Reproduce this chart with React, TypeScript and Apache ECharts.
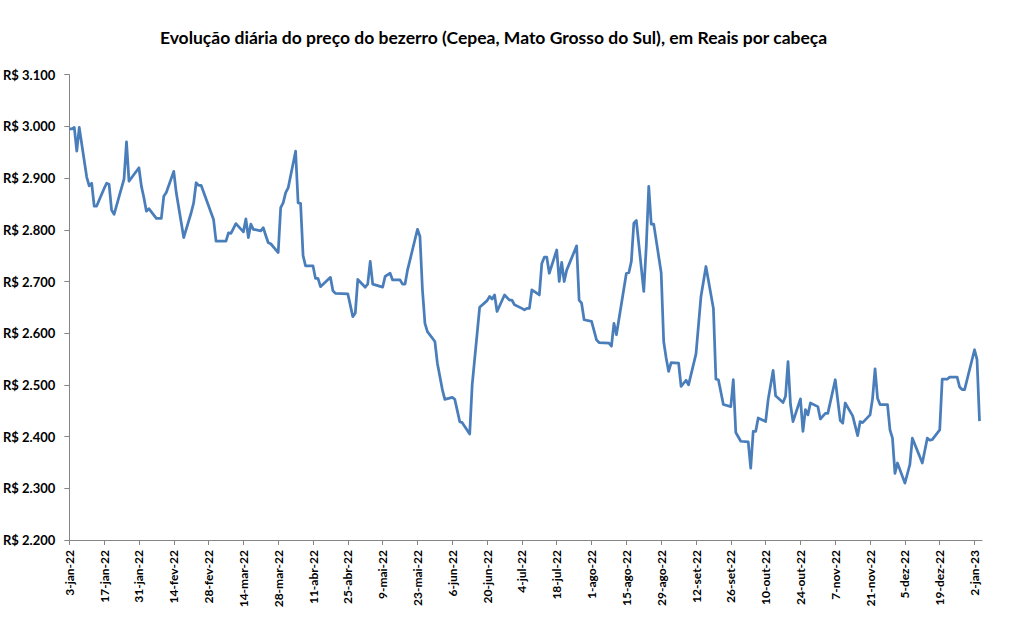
import React, { useEffect, useRef } from "react";
import * as echarts from "echarts";

const TITLE = "Evolução diária do preço do bezerro (Cepea, Mato Grosso do Sul), em Reais por cabeça";
const START_DATE = "2022-01-03";
const END_DATE = "2023-01-05";
const MONTHS = ["jan", "fev", "mar", "abr", "mai", "jun", "jul", "ago", "set", "out", "nov", "dez"];

const dates = [
  "2022-01-03","2022-01-04","2022-01-05","2022-01-06","2022-01-07","2022-01-10","2022-01-11","2022-01-12","2022-01-13","2022-01-14",
  "2022-01-17","2022-01-18","2022-01-19","2022-01-20","2022-01-21","2022-01-25","2022-01-26","2022-01-27","2022-01-31",
  "2022-02-01","2022-02-02","2022-02-03","2022-02-04","2022-02-07","2022-02-09","2022-02-10","2022-02-11","2022-02-14","2022-02-15",
  "2022-02-18","2022-02-21","2022-02-22","2022-02-23","2022-02-24","2022-02-25",
  "2022-03-02","2022-03-03","2022-03-07","2022-03-08","2022-03-09","2022-03-11","2022-03-14","2022-03-15","2022-03-16","2022-03-17",
  "2022-03-18","2022-03-21","2022-03-22","2022-03-23","2022-03-24","2022-03-25","2022-03-28","2022-03-29","2022-03-30","2022-03-31",
  "2022-04-01","2022-04-04","2022-04-05","2022-04-06","2022-04-07","2022-04-08","2022-04-11","2022-04-12","2022-04-13","2022-04-14",
  "2022-04-18","2022-04-19","2022-04-20","2022-04-25","2022-04-27","2022-04-28","2022-04-29",
  "2022-05-02","2022-05-03","2022-05-04","2022-05-05","2022-05-09","2022-05-10","2022-05-12","2022-05-13","2022-05-16","2022-05-17",
  "2022-05-18","2022-05-19","2022-05-23","2022-05-24","2022-05-25","2022-05-26","2022-05-27","2022-05-30","2022-05-31",
  "2022-06-02","2022-06-03","2022-06-06","2022-06-07","2022-06-09","2022-06-10","2022-06-13","2022-06-14","2022-06-17","2022-06-20",
  "2022-06-21","2022-06-22","2022-06-23","2022-06-24","2022-06-27","2022-06-29","2022-06-30",
  "2022-07-01","2022-07-04","2022-07-05","2022-07-06","2022-07-07","2022-07-08","2022-07-11","2022-07-12","2022-07-13","2022-07-14",
  "2022-07-15","2022-07-18","2022-07-19","2022-07-20","2022-07-21","2022-07-22","2022-07-26","2022-07-27","2022-07-28","2022-07-29",
  "2022-08-01","2022-08-03","2022-08-04","2022-08-08","2022-08-09","2022-08-10","2022-08-11","2022-08-15","2022-08-16","2022-08-17",
  "2022-08-18","2022-08-19","2022-08-22","2022-08-23","2022-08-24","2022-08-25","2022-08-26","2022-08-29","2022-08-30","2022-08-31",
  "2022-09-01","2022-09-02","2022-09-05","2022-09-06","2022-09-08","2022-09-09","2022-09-12","2022-09-14","2022-09-16","2022-09-19",
  "2022-09-20","2022-09-21","2022-09-23","2022-09-26","2022-09-27","2022-09-28","2022-09-30",
  "2022-10-03","2022-10-04","2022-10-05","2022-10-06","2022-10-07","2022-10-10","2022-10-11","2022-10-13","2022-10-14","2022-10-17",
  "2022-10-18","2022-10-19","2022-10-20","2022-10-21","2022-10-24","2022-10-25","2022-10-26","2022-10-27","2022-10-28","2022-10-31",
  "2022-11-01","2022-11-03","2022-11-04","2022-11-07","2022-11-09","2022-11-10","2022-11-11","2022-11-14","2022-11-16","2022-11-17",
  "2022-11-18","2022-11-21","2022-11-22","2022-11-23","2022-11-24","2022-11-25","2022-11-28","2022-11-29","2022-11-30",
  "2022-12-01","2022-12-02","2022-12-05","2022-12-07","2022-12-08","2022-12-12","2022-12-14","2022-12-15","2022-12-16","2022-12-19",
  "2022-12-20","2022-12-22","2022-12-23","2022-12-26","2022-12-27","2022-12-28","2022-12-29",
  "2023-01-02","2023-01-03","2023-01-04"
];

const prices = [
  2995,2995,2998,2952,2998,2902,2885,2890,2846,2846,
  2880,2890,2888,2838,2830,2898,2970,2894,2920,
  2884,2862,2836,2841,2822,2822,2865,2872,2913,2872,
  2785,2833,2852,2891,2886,2886,
  2820,2778,2778,2794,2793,2812,2796,2821,2785,2811,
  2801,2798,2804,2789,2775,2773,2756,2843,2852,2872,
  2881,2952,2852,2851,2750,2730,2730,2706,2706,2690,
  2708,2682,2677,2676,2632,2639,2704,
  2689,2695,2739,2695,2689,2710,2716,2703,2703,2695,
  2695,2722,2801,2787,2684,2619,2603,2584,2542,
  2491,2472,2476,2472,2429,2427,2405,2500,2650,2663,
  2671,2666,2674,2642,2674,2664,2664,
  2655,2648,2645,2648,2648,2684,2674,2735,2747,2747,
  2716,2761,2700,2737,2700,2722,2769,2664,2658,2626,
  2623,2587,2582,2581,2575,2619,2597,2716,2717,2739,
  2813,2818,2681,2768,2884,2811,2811,2717,2584,2552,
  2526,2543,2542,2497,2509,2500,2560,2671,2729,2648,
  2511,2510,2462,2458,2510,2408,2391,
  2390,2339,2410,2410,2436,2429,2471,2528,2479,2466,
  2478,2545,2462,2429,2473,2410,2452,2442,2465,2458,
  2434,2445,2445,2510,2431,2426,2465,2440,2402,2429,
  2427,2442,2474,2531,2474,2462,2462,2413,2397,
  2329,2349,2310,2346,2397,2349,2397,2393,2394,2413,
  2511,2511,2515,2515,2496,2491,2491,
  2568,2549,2430
];

const yTicks = [2200, 2300, 2400, 2500, 2600, 2700, 2800, 2900, 3000, 3100];
const xTickStepDays = 14;

const DAY_MS = 86400000;
function toUTC(iso: string) {
  const [y, m, d] = iso.split("-").map(Number);
  return Date.UTC(y, m - 1, d);
}
function dayIndex(iso: string) {
  return Math.round((toUTC(iso) - toUTC(START_DATE)) / DAY_MS);
}
function dayLabel(day: number) {
  const t = new Date(toUTC(START_DATE) + day * DAY_MS);
  const yy = String(t.getUTCFullYear()).slice(2);
  return `${t.getUTCDate()}-${MONTHS[t.getUTCMonth()]}-${yy}`;
}
function money(v: number) {
  const s = String(Math.round(v));
  return "R$ " + s.replace(/\B(?=(\d{3})+(?!\d))/g, ".");
}

export default function App() {
  const ref = useRef<HTMLDivElement>(null);
  useEffect(() => {
    if (!ref.current) return;
    const chart = echarts.init(ref.current, undefined, { renderer: "svg" });
    const lastDay = dayIndex(END_DATE);
    const xTicks: number[] = [];
    for (let d = 0; d <= lastDay; d += xTickStepDays) xTicks.push(d);
    const data = dates.map((d, i) => [dayIndex(d), prices[i]]);
    const font = "Lato, 'Open Sans', sans-serif";
    chart.setOption({
      animation: false,
      backgroundColor: "#ffffff",
      grid: { left: 68, right: 31, top: 74.7, bottom: 92, containLabel: false },
      graphic: [
        {
          type: "text",
          x: 493.5,
          y: 37.5,
          style: {
            text: TITLE,
            fontFamily: font,
            fontWeight: "bold",
            fontSize: 17.5,
            fill: "#000000",
            align: "center",
            verticalAlign: "middle",
          },
        },
      ],
      xAxis: {
        type: "value",
        min: 0,
        max: lastDay,
        splitLine: { show: false },
        axisLine: { show: true, lineStyle: { color: "#868686", width: 1 } },
        axisTick: { show: true, length: 5, customValues: xTicks, lineStyle: { color: "#868686" } },
        axisLabel: {
          customValues: xTicks,
          rotate: 90,
          margin: 10,
          fontFamily: font,
          fontWeight: "bold",
          fontSize: 12,
          color: "#000000",
          formatter: (v: number) => dayLabel(v),
        },
      },
      yAxis: {
        type: "value",
        min: yTicks[0],
        max: yTicks[yTicks.length - 1],
        interval: 100,
        splitLine: { show: false },
        axisLine: { show: true, lineStyle: { color: "#868686", width: 1 } },
        axisTick: { show: true, length: 5, lineStyle: { color: "#868686" } },
        axisLabel: {
          margin: 14,
          fontFamily: font,
          fontWeight: "bold",
          fontSize: 13,
          color: "#000000",
          formatter: (v: number) => money(v),
        },
      },
      series: [
        {
          type: "line",
          data,
          showSymbol: false,
          symbol: "none",
          lineStyle: { color: "#4A7EBB", width: 2.75, join: "round" },
          itemStyle: { color: "#4A7EBB" },
        },
      ],
    });
    return () => chart.dispose();
  }, []);
  return (
    <div
      ref={ref}
      style={{ position: "fixed", left: 0, top: 0, width: 1013, height: 632, background: "#fff" }}
    />
  );
}
